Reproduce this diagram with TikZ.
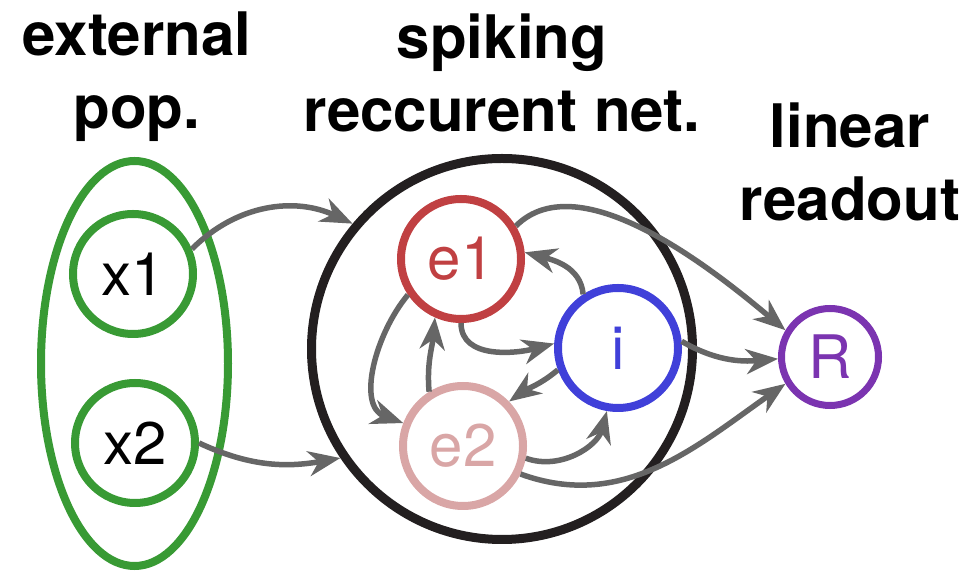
\documentclass[tikz,border=0pt]{standalone}
\usepackage{fontspec}
\setmainfont{TeX Gyre Heros}
\usetikzlibrary{arrows.meta,shapes.geometric}

\definecolor{popgreen}{RGB}{56,154,52}
\definecolor{exred}{RGB}{192,64,66}
\definecolor{expink}{RGB}{217,166,166}
\definecolor{inhblue}{RGB}{64,64,217}
\definecolor{outpurple}{RGB}{123,52,176}
\definecolor{netblack}{RGB}{35,31,32}
\definecolor{conngray}{RGB}{102,102,102}

\begin{document}
\begin{tikzpicture}[
    x=1pt,y=1pt,
    ttl/.style={anchor=north,align=center,inner sep=0pt,
      font=\fontsize{60}{73}\selectfont\bfseries},
    unit/.style={circle,draw,line width=8pt,inner sep=0pt,
      minimum size=120pt,font=\fontsize{60}{72}\selectfont},
    arrow/.style={-{Stealth[length=32pt,width=25pt,inset=10pt]},
      draw=conngray,line width=5.5pt}
  ]
    \useasboundingbox (0,0) rectangle (968,572);
    % titles
    \node[ttl] (ttlext) at (137,560) {external\\pop.};
    \node[ttl] (ttlnet) at (502,558) {spiking\\reccurent net.};
    \node[ttl] (ttlout) at (850,469) {linear\\readout};
    % populations
    \node[ellipse,draw=popgreen,line width=8pt,inner sep=0pt,
      minimum width=187pt,minimum height=405pt] (ext) at (134.5,208.5) {};
    \node[circle,draw=netblack,line width=9pt,inner sep=0pt,
      minimum size=381pt] (net) at (502,223) {};
    \node[unit,draw=popgreen] (x1) at (133,298) {x1};
    \node[unit,draw=popgreen] (x2) at (135,129) {x2};
    \node[unit,draw=exred,text=exred] (e1) at (461,313) {e1};
    \node[unit,draw=expink,text=expink] (e2) at (463,126) {e2};
    \node[unit,draw=inhblue,text=inhblue] (inh) at (618,224) {i};
    \node[unit,draw=outpurple,text=outpurple,line width=7pt,
      minimum size=97pt] (rd) at (830,215) {R};
    % connections
    \draw[arrow] (x1.23) to[out=45,in=155] (net.140);
    \draw[arrow] (x2.east) to[out=-25,in=190] (net.214);
    \draw[arrow] (e1.31) to[out=45,in=140,looseness=0.8] (rd.149);
    \draw[arrow] (inh.6) to[out=-30,in=185] (rd.182);
    \draw[arrow] (e2.-26) to[out=-20,in=215] (rd.211);
    \draw[arrow] (inh.123) to[out=95,in=-15] (e1.6);
    \draw[arrow] (e1.-90) to[out=-90,in=195] (inh.176);
    \draw[arrow] (inh.200) to[out=220,in=35] (e2.44);
    \draw[arrow] (e2.-11) to[out=-20,in=255] (inh.260);
    \draw[arrow] (e2.122) to[out=95,in=265] (e1.246);
    \draw[arrow] (e1.214) to[out=230,in=160] (e2.159);
  \end{tikzpicture}
\end{document}
